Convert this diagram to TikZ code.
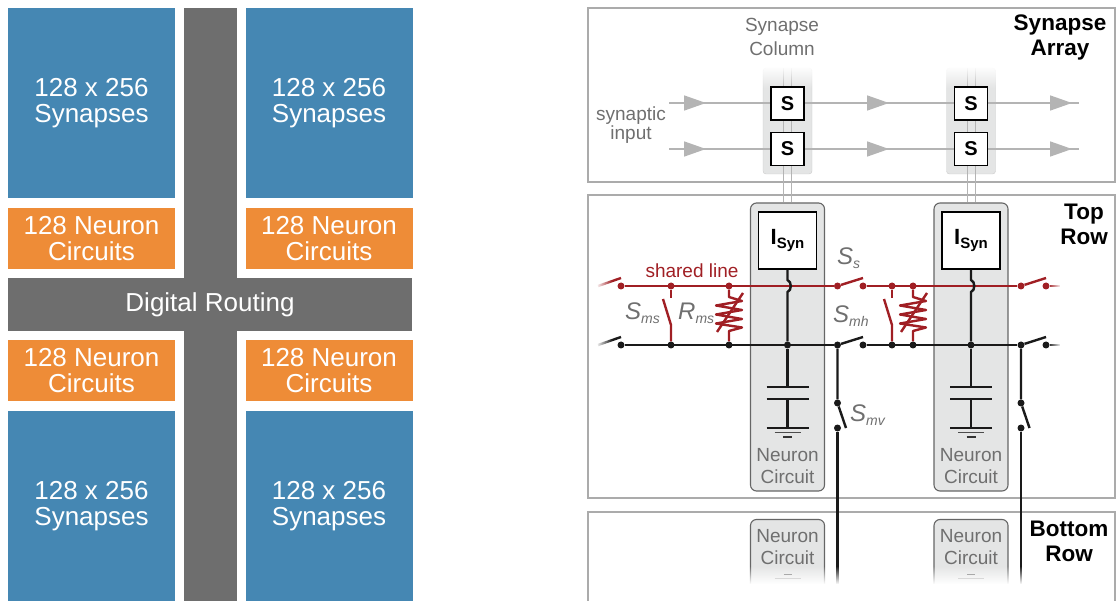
\documentclass[tikz,border=0pt]{standalone}
\usepackage{fontspec}
\setmainfont{Liberation Sans}
\usetikzlibrary{arrows.meta,fadings}
\definecolor{blockblue}{HTML}{4587B3}
\definecolor{blockorange}{HTML}{EE8C37}
\definecolor{routegray}{HTML}{6E6E6E}
\definecolor{wirered}{HTML}{A01F24}
\definecolor{wireblack}{HTML}{1A1A1A}
\definecolor{panelgray}{HTML}{ABABAB}
\definecolor{lightgray}{HTML}{B4B4B4}
\definecolor{shadegray}{HTML}{E4E5E5}
\definecolor{textgray}{HTML}{6F6F6F}
\newcommand{\fsz}[1]{\fontsize{#1}{#1}\selectfont}
\newcommand{\swlabel}[2]{\textit{#1}\raisebox{-4pt}{\fontsize{14}{14}\selectfont\textit{#2}}}
\tikzfading[name=fade down, top color=transparent!0, bottom color=transparent!100]
\tikzfading[name=fade up, top color=transparent!100, bottom color=transparent!0]
\tikzfading[name=fade left, left color=transparent!100, right color=transparent!0]
\tikzfading[name=fade right, left color=transparent!0, right color=transparent!100]
\tikzset{
  block/.style={inner sep=0, align=center, text=white, font=\fsz{26}},
  synblock/.style={block, fill=blockblue, minimum width=167, minimum height=190},
  neurblock/.style={block, fill=blockorange, minimum width=167, minimum height=61},
  neurbox/.style={draw=black!60, fill=shadegray, rounded corners=6pt, line width=1.1pt, minimum width=74, inner sep=0},
  sbox/.style={draw=black, fill=white, line width=1.8pt, minimum width=33, minimum height=33, inner sep=0, font=\fsz{20}\bfseries},
  isynbox/.style={draw=black, fill=white, line width=1.6pt, minimum width=58, minimum height=57, inner sep=0},
  graytext/.style={text=textgray, align=center, inner sep=0, font=\fsz{19}},
  boldtext/.style={text=black, align=center, inner sep=0, font=\fsz{22.5}\bfseries},
  symtext/.style={text=textgray, anchor=west, inner sep=0, font=\fsz{24}},
  redwire/.style={draw=wirered, line width=2.4pt},
  blackwire/.style={draw=wireblack, line width=2.4pt},
  reddot/.style={circle, fill=wirered, inner sep=0, minimum size=7},
  blackdot/.style={circle, fill=wireblack, inner sep=0, minimum size=7},
  synline/.style={draw=lightgray, line width=1.6pt},
  tip/.style={-{Triangle[length=22pt,width=15pt]}},
}
\begin{document}
\begin{tikzpicture}[x=1pt, y=-1pt]
    \useasboundingbox (0,0) rectangle (1116,601);
    % Left chip plan: routing cross
    \node[fill=routegray, minimum width=53, minimum height=593, inner sep=0] (vroute) at (210.5,304.5) {};
    \node[block, fill=routegray, minimum width=404, minimum height=53] (hroute) at (210,304.5) {Digital Routing};
    % Left chip plan: synapses and neurons
    \node[synblock] (synTL) at (91.5,103) {128 x 256\\Synapses};
    \node[synblock] (synTR) at (329,103) {128 x 256\\Synapses};
    \node[synblock] (synBL) at (91.5,506) {128 x 256\\Synapses};
    \node[synblock] (synBR) at (329,506) {128 x 256\\Synapses};
    \node[neurblock] (neurTL) at (91.5,238.5) {128 Neuron\\Circuits};
    \node[neurblock] (neurTR) at (329,238.5) {128 Neuron\\Circuits};
    \node[neurblock] (neurBL) at (91.5,370.5) {128 Neuron\\Circuits};
    \node[neurblock] (neurBR) at (329,370.5) {128 Neuron\\Circuits};
    % Panels
    \draw[panelgray, line width=1.1pt] (588,8) rectangle (1115,182);
    \draw[panelgray, line width=1.1pt] (588,195) rectangle (1115,498);
    \draw[panelgray, line width=1.1pt] (588,601) -- (588,512) -- (1115,512) -- (1115,601);
    \node[graytext] (colname) at (782,37) {Synapse\\[5pt]Column};
    \node[graytext] (inname) at (631,125) {synaptic\\input};
    \node[boldtext] (arrayname) at (1060,37.5) {Synapse\\[2.5pt]Array};
    \node[boldtext] (topname) at (1084,224.5) {Top\\[2.5pt]Row};
    \node[boldtext] (botname) at (1069,541.5) {Bottom\\[2.5pt]Row};
    % One neuron column each, with its wires
    \foreach \n/\xs/\xm/\xr/\xc/\xe in {a/621/671/729/787.5/837.5, b/863/892/913/971/1021} {
        % Synapse column
        \node[draw=lightgray!70, fill=shadegray, rounded corners=3pt, minimum width=49, minimum height=106, inner sep=0] (col\n) at (\xc,121) {};
        \node[neurbox, minimum height=288] (box\n) at (\xc,347) {};
        \node[neurbox, minimum height=81] (low\n) at (\xc,560) {};
        \node[isynbox] (isyn\n) at (\xc,240.5) {\fsz{22}\bfseries I\raisebox{-4pt}{\fsz{15}Syn}};
        \coordinate (tl\n) at (\xc-4,68);
        \coordinate (tr\n) at (\xc+4,68);
        \draw[lightgray, line width=0.9pt] (tl\n) -- (tl\n |- box\n.north);
        \draw[lightgray, line width=0.9pt] (tr\n) -- (tr\n |- box\n.north);
        \fill[white, path fading=fade down] (\xc-28,66) rectangle (\xc+28,88);
        % Shared line and membrane line
        \node[reddot] (rs\n) at (\xs,286) {};
        \node[reddot] (rm\n) at (\xm,286) {};
        \node[reddot] (rr\n) at (\xr,286) {};
        \node[reddot] (re\n) at (\xe,286) {};
        \node[blackdot] (bs\n) at (\xs,345) {};
        \node[blackdot] (bm\n) at (\xm,345) {};
        \node[blackdot] (br\n) at (\xr,345) {};
        \node[blackdot] (bc\n) at (\xc,345) {};
        \node[blackdot] (be\n) at (\xe,345) {};
        \draw[redwire] (rs\n) -- (re\n);
        \draw[blackwire] (bs\n) -- (be\n);
        % Current source feeding the membrane, hopping the shared line
        \coordinate (ha\n) at (\xc,280);
        \coordinate (hb\n) at (\xc,292);
        \draw[blackwire] (isyn\n.south) -- (ha\n) to[bend left=70] (hb\n) -- (bc\n);
        % Switch S_ms
        \coordinate (ma\n) at (\xm,298);
        \coordinate (mb\n) at (\xm,325);
        \coordinate (mc\n) at (\xm-8,299);
        \draw[redwire] (rm\n) -- (ma\n);
        \draw[redwire] (bm\n) -- (mb\n) -- (mc\n);
        % Resistor R_ms
        \coordinate (ra\n) at (\xr,297);
        \coordinate (rb\n) at (\xr,331);
        \draw[redwire, line join=round] (rr\n) -- (ra\n) -- ++(13,4) -- ++(-26,4.5) -- ++(26,4.5) -- ++(-26,4.5) -- ++(26,4.5) -- ++(-26,4.5) -- ++(26,4) -- (rb\n) -- (br\n);
        \coordinate (ga\n) at (\xr-12,332);
        \coordinate (gb\n) at (\xr+14,293);
        \draw[redwire] (ga\n) -- (gb\n);
        % Capacitor and ground
        \coordinate (ca\n) at (\xc,387);
        \coordinate (cb\n) at (\xc,399);
        \coordinate (cc\n) at (\xc,428);
        \draw[blackwire] (bc\n) -- (ca\n);
        \draw[blackwire] (cb\n) -- (cc\n);
        \draw[blackwire] (\xc-21,387) -- (\xc+21,387);
        \draw[blackwire] (\xc-21,399) -- (\xc+21,399);
        \draw[blackwire] (\xc-21,428) -- (\xc+21,428);
        \draw[black!70, line width=1.5pt] (\xc-13,432.5) -- (\xc+13,432.5);
        \draw[black!80, line width=1.8pt] (\xc-4.5,437) -- (\xc+4.5,437);
        \node[graytext] (nc\n) at (\xc,466) {Neuron\\[3pt]Circuit};
        \node[graytext] (lc\n) at (\xc,547) {Neuron\\[3pt]Circuit};
        \draw[black!60, line width=1pt] (\xc-4,574) -- (\xc+4,574);
        \draw[black!45, line width=1pt] (\xc-13,578.5) -- (\xc+13,578.5);
        % Switch S_mv
        \node[blackdot] (va\n) at (\xe,403) {};
        \node[blackdot] (vb\n) at (\xe,428) {};
        \coordinate (vc\n) at (\xe+8.5,428);
        \coordinate (vd\n) at (\xe,592);
        \draw[blackwire] (be\n) -- (va\n) -- (vc\n);
        \draw[blackwire] (vb\n) -- (vd\n);
    }
    % Synaptic input lines
    \foreach \r/\yy in {u/103,l/149} {
        \coordinate (in\r) at (669,\yy);
        \coordinate (ta\r) at (706,\yy);
        \coordinate (tb\r) at (889,\yy);
        \coordinate (tc\r) at (1072,\yy);
        \coordinate (out\r) at (1079,\yy);
        \draw[synline] (in\r) -- (out\r);
        \draw[synline, tip] (in\r) -- (ta\r);
        \draw[synline, tip] (ta\r) -- (tb\r);
        \draw[synline, tip] (tb\r) -- (tc\r);
    }
    \foreach \n/\xc in {a/787.5, b/971} {
        \node[sbox] (su\n) at (\xc,103.5) {S};
        \node[sbox] (sl\n) at (\xc,149) {S};
    }
    % Switches between the columns
    \coordinate (rl) at (598,286);
    \coordinate (rk) at (621,278);
    \coordinate (bl) at (598,345);
    \coordinate (bk) at (621,337);
    \draw[redwire] (rl) -- (rk);
    \draw[blackwire] (bl) -- (bk);
    \coordinate (ss) at (863,278);
    \coordinate (sh) at (863,337);
    \draw[redwire] (rea) -- (ss);
    \draw[blackwire] (bea) -- (sh);
    \coordinate (st) at (1046,278);
    \coordinate (sk) at (1046,337);
    \draw[redwire] (reb) -- (st);
    \draw[blackwire] (beb) -- (sk);
    \node[reddot] (rend) at (1046,286) {};
    \node[blackdot] (bend) at (1046,345) {};
    \coordinate (rout) at (1060,286);
    \coordinate (bout) at (1060,345);
    \draw[redwire] (rend) -- (rout);
    \draw[blackwire] (bend) -- (bout);
    % Fades at the ends of the wires
    \fill[white, path fading=fade right] (596,274) rectangle (612,290);
    \fill[white, path fading=fade right] (596,333) rectangle (612,349);
    \fill[white, path fading=fade left] (1048,283) rectangle (1061,289);
    \fill[white, path fading=fade left] (1048,342) rectangle (1061,348);
    \fill[white, path fading=fade up] (745,566) rectangle (1027,584);
    \fill[white] (745,583.5) rectangle (1027,601);
    % Symbols
    \node[text=wirered, inner sep=0, font=\fsz{19}] (shared) at (692,271) {shared line};
    \node[symtext] (sms) at (625,313) {\swlabel{S}{ms}};
    \node[symtext] (rms) at (678,313) {\swlabel{R}{ms}};
    \node[symtext] (ssl) at (837,258) {\swlabel{S}{s}};
    \node[symtext] (smh) at (833,316) {\swlabel{S}{mh}};
    \node[symtext] (smv) at (850,415) {\swlabel{S}{mv}};
\end{tikzpicture}
\end{document}
